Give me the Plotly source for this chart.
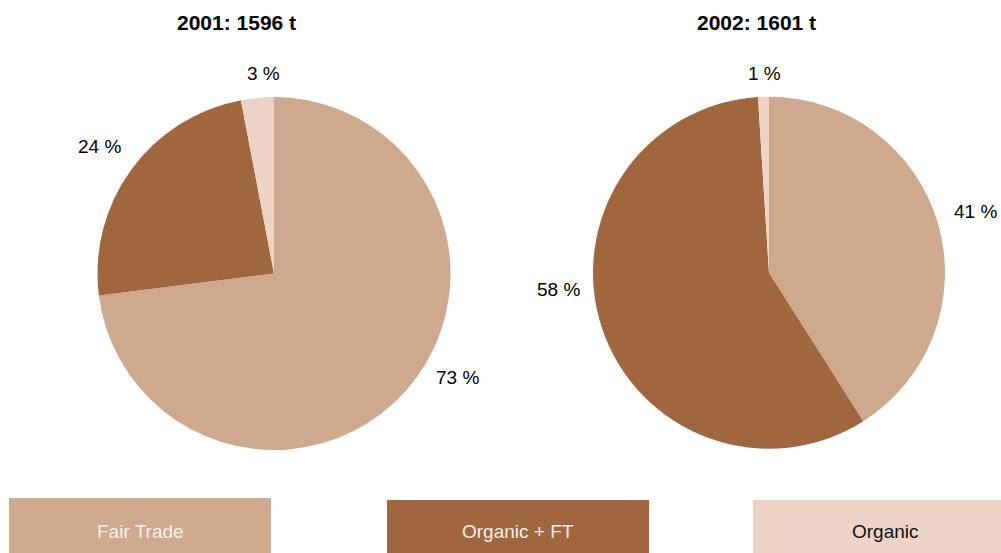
import plotly.graph_objects as go

categories = ["Fair Trade", "Organic + FT", "Organic"]
years = ["2001", "2002"]
totals_t = [1596, 1601]
share_2001 = [73, 24, 3]
share_2002 = [41, 58, 1]
colors = ["#CFA98E", "#A0663D", "#EDD3C6"]
legend_text_colors = ["#F7F0EA", "#F7F0EA", "#111111"]

W, H = 1001, 553

def px_x(x):
    return x / W

def px_y(y):
    return 1 - y / H

fig = go.Figure()

# pie geometry (pixel centre and radius)
pies = [
    dict(vals=share_2001, cx=274, cy=273.5, r=176.5),
    dict(vals=share_2002, cx=769, cy=272.7, r=176),
]
for p in pies:
    fig.add_trace(go.Pie(
        labels=categories,
        values=p["vals"],
        sort=False,
        direction="clockwise",
        rotation=0,
        textinfo="none",
        hoverinfo="label+percent",
        marker=dict(colors=colors, line=dict(width=0)),
        showlegend=False,
        domain=dict(
            x=[px_x(p["cx"] - p["r"]), px_x(p["cx"] + p["r"])],
            y=[px_y(p["cy"] + p["r"]), px_y(p["cy"] - p["r"])],
        ),
    ))

annotations = []
# titles
title_pos = [(236, 22), (756, 22)]
for yr, tot, (tx, ty) in zip(years, totals_t, title_pos):
    annotations.append(dict(
        x=px_x(tx), y=px_y(ty), xref="paper", yref="paper",
        text=f"<b>{yr}: {tot} t</b>", showarrow=False,
        font=dict(family="Liberation Sans, Arial, sans-serif", size=21, color="#000000"),
        xanchor="center", yanchor="middle",
    ))

# slice labels
label_pos = [
    [(457, 377), (99, 147), (263, 74)],
    [(975, 211), (558, 289), (764, 74)],
]
for vals, positions in zip([share_2001, share_2002], label_pos):
    for v, (lx, ly) in zip(vals, positions):
        annotations.append(dict(
            x=px_x(lx), y=px_y(ly), xref="paper", yref="paper",
            text=f"{v} %", showarrow=False,
            font=dict(family="Liberation Sans, Arial, sans-serif", size=19, color="#000000"),
            xanchor="center", yanchor="middle",
        ))

# legend boxes
boxes = [(9, 498, 271, 553), (387, 500, 649, 553), (753, 500, 1001, 553)]
text_x = [140, 518, 885]
shapes = []
for cat, col, tcol, (x0, y0, x1, y1), tx in zip(categories, colors, legend_text_colors, boxes, text_x):
    shapes.append(dict(
        type="rect", xref="paper", yref="paper",
        x0=px_x(x0), x1=px_x(x1), y0=px_y(y1), y1=px_y(y0),
        fillcolor=col, line=dict(width=0), layer="below",
    ))
    annotations.append(dict(
        x=px_x(tx), y=px_y(531), xref="paper", yref="paper",
        text=cat, showarrow=False,
        font=dict(family="Liberation Sans, Arial, sans-serif", size=19, color=tcol),
        xanchor="center", yanchor="middle",
    ))

fig.update_layout(
    width=W, height=H,
    margin=dict(l=0, r=0, t=0, b=0),
    paper_bgcolor="#FFFFFF",
    plot_bgcolor="#FFFFFF",
    annotations=annotations,
    shapes=shapes,
    showlegend=False,
)

fig.write_html(
    "out.html",
    config={"displayModeBar": False},
    post_script="document.body.style.margin='0';document.body.style.overflow='hidden';",
)
